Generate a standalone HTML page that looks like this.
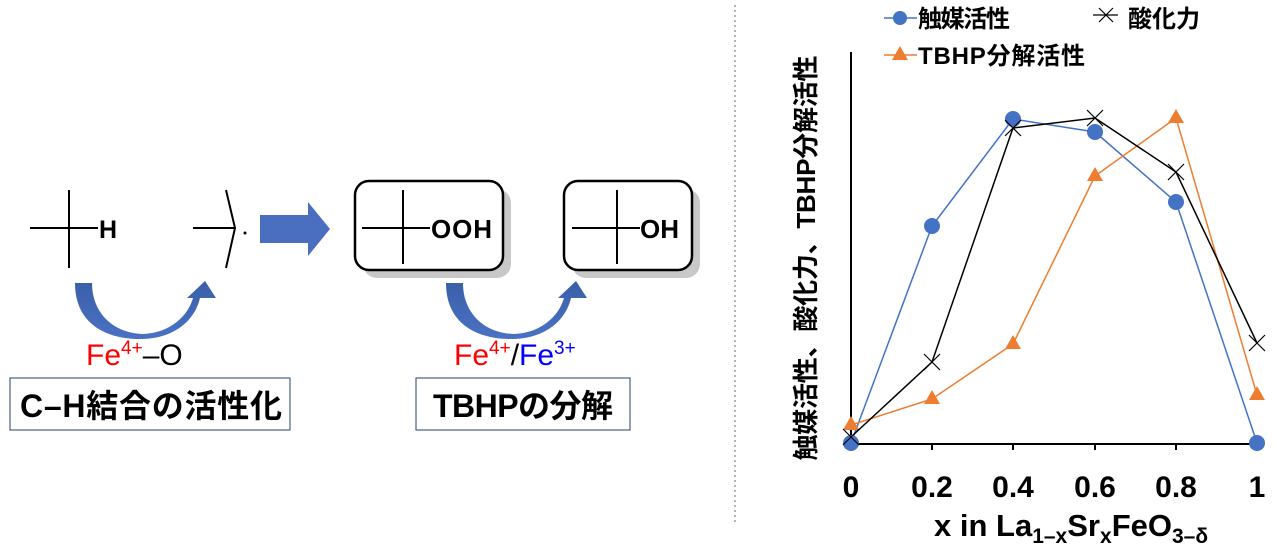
<!DOCTYPE html>
<html><head><meta charset="utf-8"><style>
body{margin:0;width:1280px;height:553px;background:#fff;overflow:hidden;position:relative;font-family:"Liberation Sans","Noto Sans CJK JP",sans-serif}
</style></head><body>
<svg width="1280" height="553" style="position:absolute;left:0;top:0" font-family="Liberation Sans, Noto Sans CJK JP, sans-serif">
<defs><linearGradient id="g" x1="0" y1="0" x2="0" y2="1"><stop offset="0" stop-color="#3a5fa8"/><stop offset="1" stop-color="#4a72c4"/></linearGradient></defs>
<line x1="735" y1="5" x2="735" y2="525" stroke="#999" stroke-width="1.5" stroke-dasharray="2,3"/>
<g stroke="#000" stroke-width="2" fill="none">
<line x1="69" y1="190" x2="69" y2="268"/><line x1="30" y1="228" x2="98" y2="228"/>
<line x1="193" y1="228" x2="235" y2="228"/><polyline points="226,190 235,228 226,268"/>
</g>
<text x="99" y="238" font-size="25" font-weight="bold">H</text>
<circle cx="245" cy="233" r="1.5" fill="#000"/>
<polygon points="260,215 308,215 308,202 330,229 308,256 308,243 260,243" fill="#4a6fc0"/>
<rect x="363" y="189" width="148" height="89" rx="14" fill="#c8c8c8"/>
<rect x="355" y="181" width="148" height="89" rx="14" fill="#fff" stroke="#000" stroke-width="2.5"/>
<g stroke="#000" stroke-width="2"><line x1="403" y1="190" x2="403" y2="264"/><line x1="362" y1="228" x2="430" y2="228"/></g>
<text x="431" y="238" font-size="26" font-weight="bold" textLength="61">OOH</text>
<rect x="572" y="189" width="128" height="89" rx="14" fill="#c8c8c8"/>
<rect x="564" y="181" width="128" height="89" rx="14" fill="#fff" stroke="#000" stroke-width="2.5"/>
<g stroke="#000" stroke-width="2"><line x1="617" y1="190" x2="617" y2="264"/><line x1="572" y1="228" x2="640" y2="228"/></g>
<text x="640" y="238" font-size="26" font-weight="bold">OH</text>
<path id="ca" d="M75,283 C75,325 108,340 143,339 C175,338 195,320 200,298 L216,298 L205,281 L187,298 L193,298 C188,316 170,333 143,334 C112,333 92,312 92,283 Z" fill="url(#g)"/>
<use href="#ca" x="371"/>
<text x="86" y="365" font-size="30"><tspan fill="#f00">Fe</tspan><tspan fill="#f00" font-size="19" dy="-11">4+</tspan><tspan dy="11">–O</tspan></text>
<text x="454" y="365" font-size="30"><tspan fill="#f00">Fe</tspan><tspan fill="#f00" font-size="19" dy="-11">4+</tspan><tspan dy="11">/</tspan><tspan fill="#00f">Fe</tspan><tspan fill="#00f" font-size="19" dy="-11">3+</tspan></text>
<rect x="10" y="378" width="280" height="52" fill="#fff" stroke="#4a5f8a" stroke-width="1.2"/>
<text x="151" y="417" font-size="32" font-weight="bold" text-anchor="middle" textLength="262">C–H結合の活性化</text>
<rect x="416" y="378" width="214" height="52" fill="#fff" stroke="#4a5f8a" stroke-width="1.2"/>
<text x="523" y="417" font-size="32" font-weight="bold" text-anchor="middle" textLength="180">TBHPの分解</text>
<g stroke="#000" stroke-width="2"><line x1="851" y1="52" x2="851" y2="444"/><line x1="851" y1="444" x2="1257" y2="444"/>
<path d="M851,444v6M932,444v6M1013,444v6M1095,444v6M1176,444v6M1257,444v6"/></g>
<g font-size="30" font-weight="bold" text-anchor="middle">
<text x="851" y="497">0</text><text x="932" y="497">0.2</text><text x="1013" y="497">0.4</text><text x="1095" y="497">0.6</text><text x="1176" y="497">0.8</text><text x="1257" y="497">1</text>
</g>
<text x="934" y="536" font-size="31" font-weight="bold">x in La<tspan font-size="21" dy="7">1–x</tspan><tspan dy="-7">Sr</tspan><tspan font-size="21" dy="7">x</tspan><tspan dy="-7">FeO</tspan><tspan font-size="21" dy="7">3–δ</tspan></text>
<text transform="translate(815,258) rotate(-90)" font-size="26" font-weight="bold" text-anchor="middle" textLength="405">触媒活性、酸化力、TBHP分解活性</text>
<polyline points="851,443 932,226 1013,119 1095,132 1176,202 1257,443" fill="none" stroke="#4472c4" stroke-width="1.5"/>
<polyline points="851,425 932,399 1013,344 1095,176 1176,118 1257,395" fill="none" stroke="#ed7d31" stroke-width="1.5"/>
<polyline points="851,437 932,362 1013,128 1095,118 1176,172 1257,343" fill="none" stroke="#000" stroke-width="1.5"/>
<g fill="#4472c4"><circle cx="851" cy="443" r="8"/><circle cx="932" cy="226" r="8"/><circle cx="1013" cy="119" r="8"/><circle cx="1095" cy="132" r="8"/><circle cx="1176" cy="202" r="8"/><circle cx="1257" cy="443" r="8"/></g>
<g fill="#ed7d31">
<polygon points="851,416 843,430 859,430"/><polygon points="932,390 924,404 940,404"/><polygon points="1013,335 1005,349 1021,349"/><polygon points="1095,167 1087,181 1103,181"/><polygon points="1176,109 1168,123 1184,123"/><polygon points="1257,386 1249,400 1265,400"/>
</g>
<g stroke="#000" stroke-width="1.2">
<path d="M843,429l16,16M859,429l-16,16M924,354l16,16M940,354l-16,16M1005,120l16,16M1021,120l-16,16M1087,110l16,16M1103,110l-16,16M1168,164l16,16M1184,164l-16,16M1249,335l16,16M1265,335l-16,16"/>
</g>
<line x1="884" y1="18" x2="917" y2="18" stroke="#4472c4" stroke-width="1.5"/><circle cx="900" cy="18" r="7" fill="#4472c4"/>
<text x="918" y="27" font-size="24" font-weight="bold" textLength="92">触媒活性</text>
<line x1="1093" y1="15" x2="1118" y2="15" stroke="#000" stroke-width="1.2"/><path d="M1099,8l14,14M1113,8l-14,14" stroke="#000" stroke-width="1.2"/>
<text x="1128" y="27" font-size="24" font-weight="bold" textLength="72">酸化力</text>
<line x1="884" y1="55" x2="917" y2="55" stroke="#ed7d31" stroke-width="1.5"/><polygon points="900,46 892,60 908,60" fill="#ed7d31"/>
<text x="918" y="64" font-size="24" font-weight="bold" textLength="167">TBHP分解活性</text>
</svg>
</body></html>
